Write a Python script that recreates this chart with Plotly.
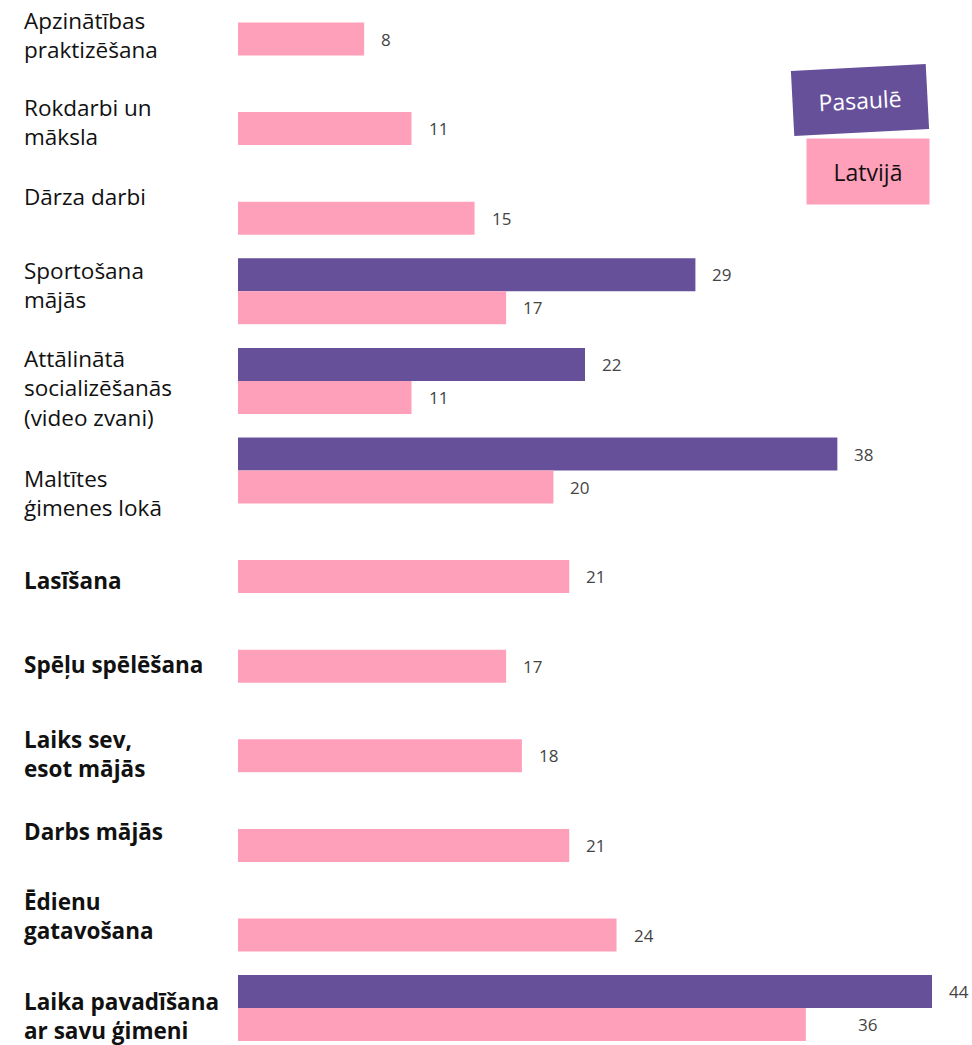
import plotly.graph_objects as go

categories = [
    "Apzinātības<br>praktizēšana",
    "Rokdarbi un<br>māksla",
    "Dārza darbi",
    "Sportošana<br>mājās",
    "Attālinātā<br>socializēšanās<br>(video zvani)",
    "Maltītes<br>ģimenes lokā",
    "Lasīšana",
    "Spēļu spēlēšana",
    "Laiks sev,<br>esot mājās",
    "Darbs mājās",
    "Ēdienu<br>gatavošana",
    "Laika pavadīšana<br>ar savu ģimeni",
]
bold = [False] * 6 + [True] * 6
latvija = [8, 11, 15, 17, 11, 20, 21, 17, 18, 21, 24, 36]
pasaule = [None, None, None, 29, 22, 38, None, None, None, None, None, 44]

PURPLE = "#66509a"
PINK = "#ffa0bb"
FONT = "Open Sans"

W, H = 972, 1045
L = 238
SLOT = 89.6
Y0 = 39.0
BW = 33 / SLOT

idx = list(range(len(categories)))

fig = go.Figure()
fig.add_trace(go.Bar(
    y=[i - BW for i in idx], x=pasaule, orientation="h", width=BW,
    marker=dict(color=PURPLE, line=dict(width=0)), name="Pasaulē", showlegend=False,
))
fig.add_trace(go.Bar(
    y=idx, x=latvija, orientation="h", width=BW,
    marker=dict(color=PINK, line=dict(width=0)), name="Latvijā", showlegend=False,
))

ann = []
# category labels (pixel centre positions from the layout)
label_centres = [35, 122, 197, 285, 388, 493, 580, 664, 754, 831, 916, 1016]
for t, b, py in zip(categories, bold, label_centres):
    txt = f"<b>{t}</b>" if b else t
    ann.append(dict(
        text=txt, xref="paper", yref="paper", x=(22 - L) / (W - L), y=1 - py / H,
        xanchor="left", yanchor="middle", align="left", showarrow=False,
        font=dict(size=22.5, color="#111111", family=FONT),
    ))

# value labels
def vlabel(val, yv, shift=16):
    return dict(text=str(val), x=val, y=yv, xref="x", yref="y", xanchor="left",
                yanchor="middle", xshift=shift, showarrow=False,
                font=dict(size=17, color="#444444", family=FONT))

for i, v in enumerate(latvija):
    shift = 50 if i == len(latvija) - 1 else 15
    ann.append(vlabel(v, i, shift))
for i, v in enumerate(pasaule):
    if v is not None:
        ann.append(vlabel(v, i - BW, 15))

# legend boxes
def px2paper(px, py):
    return (px - L) / (W - L), 1 - py / H

x1, y1 = px2paper(860, 100)
ann.append(dict(text="Pasaulē", xref="paper", yref="paper", x=x1, y=y1,
                xanchor="center", yanchor="middle", showarrow=False,
                width=132, height=62, bgcolor=PURPLE, textangle=-3,
                font=dict(size=23, color="white", family=FONT)))
x2, y2 = px2paper(868, 171.5)
ann.append(dict(text="Latvijā", xref="paper", yref="paper", x=x2, y=y2,
                xanchor="center", yanchor="middle", showarrow=False,
                width=120, height=63, bgcolor=PINK,
                font=dict(size=23, color="#111111", family=FONT)))

xmax = (W - L) / ((932 - L) / 44)
fig.update_layout(
    width=W, height=H, margin=dict(l=L, r=0, t=0, b=0),
    paper_bgcolor="white", plot_bgcolor="white",
    barmode="overlay",
    xaxis=dict(range=[0, xmax], visible=False, fixedrange=True),
    yaxis=dict(range=[(H - Y0) / SLOT, -Y0 / SLOT], visible=False, fixedrange=True),
    annotations=ann,
    font=dict(family=FONT),
)

fig.write_html("out.html")
